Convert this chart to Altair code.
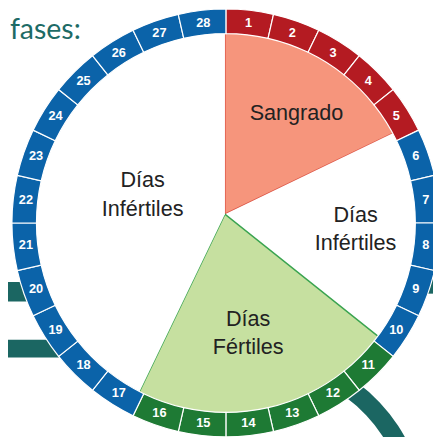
import altair as alt
import pandas as pd

# ---- data ----
days = [1, 2, 3, 4, 5, 6, 7, 8, 9, 10, 11, 12, 13, 14,
        15, 16, 17, 18, 19, 20, 21, 22, 23, 24, 25, 26, 27, 28]
day_phase = ["Sangrado", "Sangrado", "Sangrado", "Sangrado", "Sangrado",
             "Infértil", "Infértil", "Infértil", "Infértil", "Infértil",
             "Fértil", "Fértil", "Fértil", "Fértil", "Fértil", "Fértil",
             "Infértil", "Infértil", "Infértil", "Infértil", "Infértil", "Infértil",
             "Infértil", "Infértil", "Infértil", "Infértil", "Infértil", "Infértil"]
day_units = [1] * 28

slice_key = ["sangrado", "infertil1", "fertil", "infertil2"]
slice_days = [5, 5, 6, 12]
slice_label = ["Sangrado", "Días\nInfértiles", "Días\nFértiles", "Días\nInfértiles"]

title_text = "fases:"

ring_df = pd.DataFrame({"day": days, "phase": day_phase, "u": day_units})
pie_df = pd.DataFrame({"key": slice_key, "days": slice_days, "label": slice_label,
                       "order": [1, 2, 3, 4]})

W, H = 433, 429
RCX, RCY = 222, 215       # ring centre (plot coords)
PCX, PCY = 221, 206       # pie apex (plot coords)
TEAL = "#1b6662"

# ---- decorations ----
deco_df = pd.DataFrame({"k": [0]})
bar1 = alt.Chart(deco_df).mark_rect(color=TEAL).encode(
    x=alt.value(0), x2=alt.value(40), y=alt.value(275), y2=alt.value(295))
bar2 = alt.Chart(deco_df).mark_rect(color=TEAL).encode(
    x=alt.value(0), x2=alt.value(70), y=alt.value(334), y2=alt.value(352))
bar3 = alt.Chart(deco_df).mark_rect(color=TEAL).encode(
    x=alt.value(405), x2=alt.value(433), y=alt.value(272), y2=alt.value(287))
curve = alt.Chart(deco_df).mark_arc(
    color=TEAL, theta=0.45, theta2=1.9, innerRadius=150, outerRadius=169
).encode(x=alt.value(256), y=alt.value(514))

# ---- pie ----
pie = alt.Chart(pie_df).mark_arc(outerRadius=205, strokeWidth=1.5).encode(
    theta=alt.Theta("days:Q", stack=True),
    order=alt.Order("order:Q"),
    color=alt.Color("key:N", legend=None,
                    scale=alt.Scale(domain=slice_key,
                                    range=["#f6957c", "#ffffff", "#c6e0a0", "#ffffff"])),
    stroke=alt.Stroke("key:N", legend=None,
                      scale=alt.Scale(domain=slice_key,
                                      range=["#dc5445", "#ffffff", "#3aa450", "#ffffff"])),
    strokeOpacity=alt.condition(
        (alt.datum.key == "sangrado") | (alt.datum.key == "fertil"),
        alt.value(1), alt.value(0)),
    x=alt.value(PCX), y=alt.value(PCY),
)

# radius, dx, dy of each slice label
label_pos = {"sangrado": (122, 8, 0), "infertil1": (134, 0, -14),
             "fertil": (120, -3, -10), "infertil2": (87, 1, -15)}
pie_labels = []
for k, (r, ddx, ddy) in label_pos.items():
    pie_labels.append(
        alt.Chart(pie_df).mark_text(
            radius=r, dx=ddx, dy=ddy, fontSize=22, font="Liberation Sans",
            color="#222222", lineBreak="\n", lineHeight=29,
            baseline="middle").encode(
            theta=alt.Theta("days:Q", stack=True),
            order=alt.Order("order:Q"),
            text=alt.Text("label:N"),
            opacity=alt.condition(alt.datum.key == k, alt.value(1), alt.value(0)),
            x=alt.value(PCX), y=alt.value(PCY),
        )
    )

# ---- ring ----
ring = alt.Chart(ring_df).mark_arc(outerRadius=218, innerRadius=193,
                                   stroke="#ffffff", strokeWidth=1.2).encode(
    theta=alt.Theta("u:Q", stack=True),
    order=alt.Order("day:Q"),
    color=alt.Color("phase:N", legend=None,
                    scale=alt.Scale(domain=["Sangrado", "Infértil", "Fértil"],
                                    range=["#b41b22", "#0b63a9", "#1e7a34"])),
    x=alt.value(RCX), y=alt.value(RCY),
)
ring_text = alt.Chart(ring_df).mark_text(radius=205, fontSize=13, fontWeight="bold",
                                         font="Liberation Sans", color="white",
                                         baseline="middle").encode(
    theta=alt.Theta("u:Q", stack=True),
    order=alt.Order("day:Q"),
    text=alt.Text("day:Q"),
    x=alt.value(RCX), y=alt.value(RCY),
)

title = alt.Chart(deco_df).mark_text(fontSize=29, font="Lato", color="#1d6b66",
                                     align="left", baseline="alphabetic").encode(
    x=alt.value(2), y=alt.value(28), text=alt.value(title_text))

chart = alt.layer(bar1, bar2, bar3, curve, pie, ring, ring_text, *pie_labels, title).resolve_scale(
    color="independent", stroke="independent"
).properties(
    width=W, height=H, autosize=alt.AutoSizeParams(type="none"), padding=0
).configure_view(strokeWidth=0)

chart.save("out.html", embed_options={"renderer": "svg", "actions": False})
